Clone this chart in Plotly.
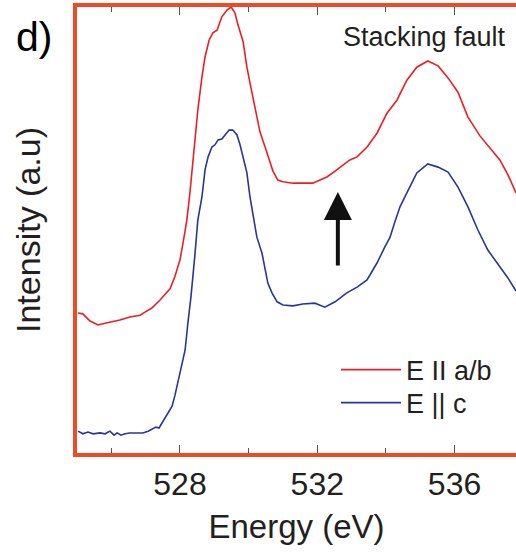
import plotly.graph_objects as go

# ---- data ----
energy_ab = [525.03, 525.17, 525.38, 525.61, 525.82, 526.05, 526.25, 526.54, 526.84, 526.98,
             527.18, 527.42, 527.56, 527.71, 527.85, 528.00, 528.09, 528.20, 528.29, 528.38,
             528.52, 528.64, 528.73, 528.85, 528.96, 529.08, 529.22, 529.37, 529.49, 529.60,
             529.69, 529.84, 529.95, 530.04, 530.19, 530.33, 530.48, 530.62, 530.71, 530.85,
             531.00, 531.29, 531.58, 531.87, 532.08, 532.28, 532.52, 532.75, 532.95, 533.16,
             533.45, 533.74, 534.03, 534.32, 534.61, 534.90, 535.22, 535.52, 535.81, 536.10,
             536.39, 536.74, 537.03, 537.32, 537.56, 537.79]
intensity_ab = [0.314, 0.312, 0.296, 0.287, 0.291, 0.294, 0.298, 0.305, 0.309, 0.316,
                0.325, 0.343, 0.354, 0.368, 0.395, 0.433, 0.471, 0.522, 0.583, 0.661,
                0.769, 0.843, 0.888, 0.926, 0.942, 0.948, 0.978, 0.993, 1.000, 0.987,
                0.960, 0.922, 0.865, 0.830, 0.769, 0.720, 0.686, 0.652, 0.632, 0.612,
                0.608, 0.605, 0.605, 0.605, 0.612, 0.619, 0.632, 0.646, 0.657, 0.664,
                0.686, 0.717, 0.762, 0.791, 0.836, 0.865, 0.879, 0.868, 0.841, 0.809,
                0.753, 0.711, 0.684, 0.657, 0.623, 0.583]

energy_c = [525.03, 525.17, 525.32, 525.47, 525.67, 525.82, 525.96, 526.08, 526.17, 526.28,
            526.40, 526.54, 526.75, 526.92, 527.07, 527.18, 527.30, 527.39, 527.51, 527.62,
            527.77, 527.85, 527.94, 528.06, 528.15, 528.23, 528.32, 528.44, 528.52, 528.64,
            528.73, 528.82, 528.93, 529.02, 529.11, 529.22, 529.31, 529.43, 529.54, 529.66,
            529.75, 529.84, 529.95, 530.04, 530.13, 530.24, 530.39, 530.48, 530.56, 530.68,
            530.83, 531.00, 531.29, 531.58, 531.93, 532.22, 532.52, 532.86, 533.16, 533.45,
            533.74, 533.97, 534.12, 534.26, 534.41, 534.61, 534.90, 535.22, 535.52, 535.81,
            536.10, 536.39, 536.68, 536.97, 537.32, 537.56, 537.79]
intensity_c = [0.049, 0.043, 0.047, 0.043, 0.045, 0.043, 0.049, 0.040, 0.045, 0.040,
               0.043, 0.045, 0.045, 0.045, 0.049, 0.054, 0.058, 0.056, 0.072, 0.087,
               0.105, 0.128, 0.157, 0.195, 0.231, 0.291, 0.350, 0.448, 0.522, 0.574,
               0.635, 0.664, 0.686, 0.691, 0.702, 0.704, 0.713, 0.724, 0.724, 0.713,
               0.691, 0.661, 0.628, 0.574, 0.529, 0.484, 0.448, 0.415, 0.381, 0.359,
               0.339, 0.332, 0.330, 0.334, 0.336, 0.327, 0.339, 0.359, 0.372, 0.388,
               0.426, 0.462, 0.484, 0.518, 0.552, 0.583, 0.628, 0.648, 0.641, 0.630,
               0.596, 0.552, 0.500, 0.455, 0.417, 0.392, 0.363]

major_ticks = [528, 532, 536]
major_labels = ["528", "532", "536"]
minor_ticks = [526, 530, 534]

arrow_energy = 532.60
arrow_from = 0.417
arrow_to = 0.585

FONT = "Liberation Sans, Arial, Helvetica, sans-serif"
TXT = "#231f20"
AXC = "#EF4A26"

fig = go.Figure()
fig.add_trace(go.Scatter(x=energy_ab, y=intensity_ab, mode="lines", name="E II a/b",
                         line=dict(color="#EE1D25", width=1.6), legend="legend"))
fig.add_trace(go.Scatter(x=energy_c, y=intensity_c, mode="lines", name="E || c",
                         line=dict(color="#2B3593", width=1.6), legend="legend2"))

fig.add_annotation(x=arrow_energy, y=arrow_to, ax=arrow_energy, ay=arrow_from,
                   xref="x", yref="y", axref="x", ayref="y", text="",
                   showarrow=True, arrowhead=2, arrowsize=1.4, arrowwidth=4,
                   arrowcolor="#111111")

fig.add_annotation(text="d)", xref="paper", yref="paper", x=-0.098, y=0.933,
                   showarrow=False, xanchor="center", yanchor="middle",
                   font=dict(family=FONT, size=41, color="#000000"))
fig.add_annotation(text="Stacking fault", xref="paper", yref="paper", x=0.982, y=0.933,
                   showarrow=False, xanchor="right", yanchor="middle",
                   font=dict(family=FONT, size=27, color=TXT))

leg_common = dict(xanchor="left", yanchor="middle", itemwidth=60,
                  font=dict(family=FONT, size=27, color=TXT),
                  bgcolor="rgba(0,0,0,0)", borderwidth=0)

fig.update_layout(
    width=516, height=552,
    margin=dict(l=77, r=0, t=7, b=99),
    paper_bgcolor="white", plot_bgcolor="white",
    font=dict(family=FONT, color=TXT),
    showlegend=True,
    legend=dict(x=0.59, y=0.186, **leg_common),
    legend2=dict(x=0.59, y=0.112, **leg_common),
    xaxis=dict(range=[525.0, 537.79], showline=True, linecolor=AXC, linewidth=4,
               mirror="ticks", ticks="inside", ticklen=8, tickwidth=1, tickcolor="#555555",
               tickvals=major_ticks, ticktext=major_labels,
               tickfont=dict(family=FONT, size=32, color=TXT),
               minor=dict(tickvals=minor_ticks, ticks="inside", ticklen=5,
                          tickwidth=1, tickcolor="#555555"),
               showgrid=False, zeroline=False,
               title=dict(text="Energy (eV)", font=dict(family=FONT, size=33, color=TXT),
                          standoff=14)),
    yaxis=dict(range=[0, 1], showline=True, linecolor=AXC, linewidth=4, mirror=False,
               ticks="", showticklabels=False, showgrid=False, zeroline=False,
               title=dict(text="Intensity (a.u)", font=dict(family=FONT, size=34, color=TXT),
                          standoff=23)),
)

fig.write_html("out.html")
